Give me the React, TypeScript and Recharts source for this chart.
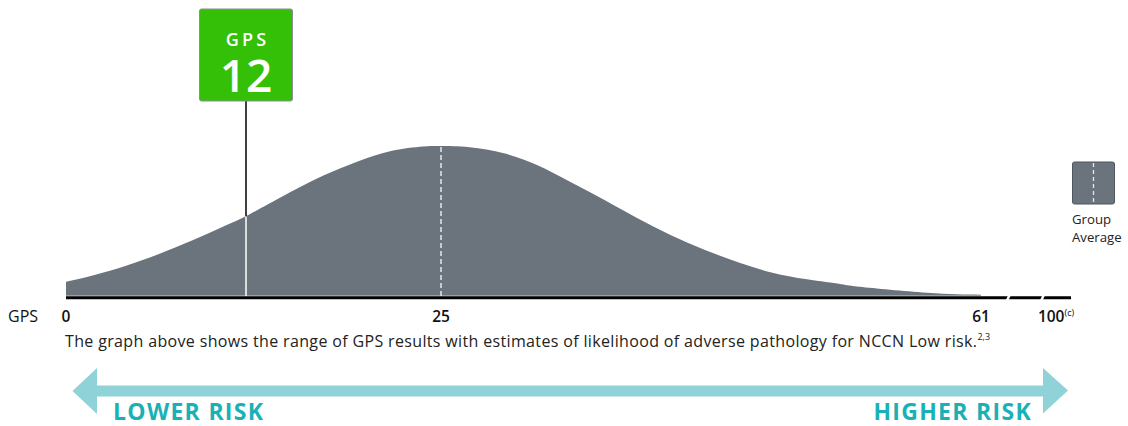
import React from 'react';
import {
  ComposedChart,
  Area,
  XAxis,
  YAxis,
  ReferenceLine,
  ReferenceDot,
} from 'recharts';

// ---- Data ----
const gpsValues = [
  0, 1.9, 4.1, 6.2, 8.4, 10.6, 12, 12.8, 15.0, 17.2, 19.4, 21.6, 23.8, 25,
  26.9, 29.2, 31.4, 33.6, 35.9, 38.1, 40.3, 42.6, 44.9, 47.1, 49.4, 51.6,
  52.9, 57.4, 61,
];
const densityValues = [
  9.5, 14, 20.5, 28, 37, 46.8, 53.2, 57.5, 69.5, 80.5, 89.5, 96.5, 99.6, 100,
  99.2, 95.1, 87.3, 76.2, 64, 51.8, 40.7, 30.7, 22.2, 15.5, 11.1, 8, 6.2, 2.2,
  0.9,
];
const tickValues = [0, 25, 61, 66];
const tickLabels = ['0', '25', '61', '100'];
const patientScore = 12;
const groupAverage = 25;
const scoreLabel = 'GPS';
const captionText =
  'The graph above shows the range of GPS results with estimates of likelihood of adverse pathology for NCCN Low risk.';
const captionRefs = '2,3';
const lowerRiskLabel = 'LOWER RISK';
const higherRiskLabel = 'HIGHER RISK';
const legendLines = ['Group', 'Average'];

const data = gpsValues.map((g, i) => ({ gps: g, density: densityValues[i] }));
const patientDensity = densityValues[gpsValues.indexOf(patientScore)];

const FONT = '"Open Sans", "Noto Sans", sans-serif';
const AREA_COLOR = '#6b747c';
const GREEN = '#34c006';
const TEAL_ARROW = '#8fd3d8';
const TEAL_TEXT = '#1ab1b6';

const AxisTick = (props: any) => {
  const { x, y, payload } = props;
  const idx = tickValues.indexOf(payload.value);
  const label = tickLabels[idx] ?? String(payload.value);
  const isLast = idx === tickValues.length - 1;
  return (
    <text
      x={x}
      y={y + 26}
      textAnchor="middle"
      fontFamily={FONT}
      fontSize={15.5}
      fontWeight={600}
      fill="#111"
    >
      {label}
      {isLast && (
        <tspan fontSize={9} dy={-6} fontWeight={500}>
          (c)
        </tspan>
      )}
    </text>
  );
};

const GpsBadge = (props: any) => {
  const { cx, cy } = props;
  const w = 93;
  const h = 92;
  return (
    <g>
      <rect
        x={cx - w / 2}
        y={cy + 1}
        width={w}
        height={h}
        rx={2}
        fill={GREEN}
        stroke="#8a8f93"
        strokeWidth={1}
      />
      <text
        textAnchor="middle"
        fontFamily={FONT}
        fontWeight={600}
        fill="#fff"
      >
        <tspan x={cx + 1.5} y={cy + 38} fontSize={18} letterSpacing={3.2}>
          {scoreLabel}
        </tspan>
        <tspan x={cx} y={cy + 84} fontSize={46}>
          {patientScore}
        </tspan>
      </text>
    </g>
  );
};

export default function App() {
  return (
    <div
      style={{
        position: 'absolute',
        left: 0,
        top: 0,
        width: 1128,
        height: 426,
        background: '#fff',
        overflow: 'hidden',
      }}
    >
      <ComposedChart
        width={1128}
        height={426}
        data={data}
        margin={{ top: 8, right: 57, bottom: 100, left: 66 }}
      >
        <XAxis
          dataKey="gps"
          type="number"
          domain={[0, 67]}
          ticks={tickValues}
          interval={0}
          axisLine={false}
          tickLine={false}
          tickSize={0}
          tickMargin={0}
          height={30}
          tick={<AxisTick />}
          allowDataOverflow
        />
        <YAxis type="number" domain={[0, 192]} hide allowDataOverflow />
        <Area
          type="natural"
          dataKey="density"
          fill={AREA_COLOR}
          fillOpacity={1}
          stroke="none"
          isAnimationActive={false}
        />
        {/* light edge under the area */}
        <ReferenceLine
          segment={[
            { x: 0, y: 0 },
            { x: 61, y: 0 },
          ]}
          stroke="#c9ccd0"
          strokeWidth={1}
          ifOverflow="visible"
        />
        {/* baseline axis */}
        <ReferenceLine
          segment={[
            { x: 0, y: -1.2 },
            { x: 67, y: -1.2 },
          ]}
          stroke="#000"
          strokeWidth={3}
          ifOverflow="visible"
        />
        {/* axis breaks */}
        <ReferenceLine
          segment={[
            { x: 62.72, y: -3.4 },
            { x: 62.92, y: 1.0 },
          ]}
          stroke="#fff"
          strokeWidth={2.5}
          ifOverflow="visible"
        />
        <ReferenceLine
          segment={[
            { x: 65.0, y: -3.4 },
            { x: 65.2, y: 1.0 },
          ]}
          stroke="#fff"
          strokeWidth={2.5}
          ifOverflow="visible"
        />
        {/* group average */}
        <ReferenceLine
          segment={[
            { x: groupAverage, y: 0 },
            { x: groupAverage, y: 100 },
          ]}
          stroke="#e4e6e8"
          strokeWidth={1.5}
          strokeDasharray="5 3"
          ifOverflow="visible"
        />
        {/* patient score line */}
        <ReferenceLine
          segment={[
            { x: patientScore, y: 0 },
            { x: patientScore, y: patientDensity },
          ]}
          stroke="#fff"
          strokeWidth={1.5}
          ifOverflow="visible"
        />
        <ReferenceLine
          segment={[
            { x: patientScore, y: patientDensity },
            { x: patientScore, y: 130 },
          ]}
          stroke="#000"
          strokeWidth={1.5}
          ifOverflow="visible"
        />
        <ReferenceDot
          x={patientScore}
          y={192}
          ifOverflow="visible"
          shape={<GpsBadge />}
        />
      </ComposedChart>

      <svg
        width={1128}
        height={426}
        style={{ position: 'absolute', left: 0, top: 0, pointerEvents: 'none' }}
      >
        <text x={8} y={322} fontFamily={FONT} fontSize={16} fill="#111">
          {scoreLabel}
        </text>
        <text
          x={65}
          y={347}
          fontFamily={FONT}
          fontSize={16}
          letterSpacing={0.35}
          fill="#222"
        >
          {captionText}
          <tspan fontSize={9} dy={-7} letterSpacing={0}>
            {captionRefs}
          </tspan>
        </text>

        {/* legend */}
        <rect
          x={1072.5}
          y={162}
          width={42}
          height={42}
          rx={2}
          fill={AREA_COLOR}
          stroke="#50575d"
          strokeWidth={1}
        />
        <line
          x1={1093.5}
          y1={163}
          x2={1093.5}
          y2={203}
          stroke="#e4e6e8"
          strokeWidth={1.3}
          strokeDasharray="4 3"
        />
        <text x={1072} y={224} fontFamily={FONT} fontSize={13.2} fill="#222">
          {legendLines[0]}
        </text>
        <text x={1072} y={242} fontFamily={FONT} fontSize={13.2} fill="#222">
          {legendLines[1]}
        </text>

        {/* risk arrow */}
        <polygon
          points="72.5,391 97,368 97,385.5 1043,385.5 1043,368 1068,390.5 1043,413.5 1043,396.5 97,396.5 97,414"
          fill={TEAL_ARROW}
        />
        <text
          x={113}
          y={419.5}
          fontFamily={FONT}
          fontSize={23}
          fontWeight={700}
          letterSpacing={1.3}
          fill={TEAL_TEXT}
        >
          {lowerRiskLabel}
        </text>
        <text
          x={1032}
          y={419.5}
          textAnchor="end"
          fontFamily={FONT}
          fontSize={23}
          fontWeight={700}
          letterSpacing={1.3}
          fill={TEAL_TEXT}
        >
          {higherRiskLabel}
        </text>
      </svg>
    </div>
  );
}
